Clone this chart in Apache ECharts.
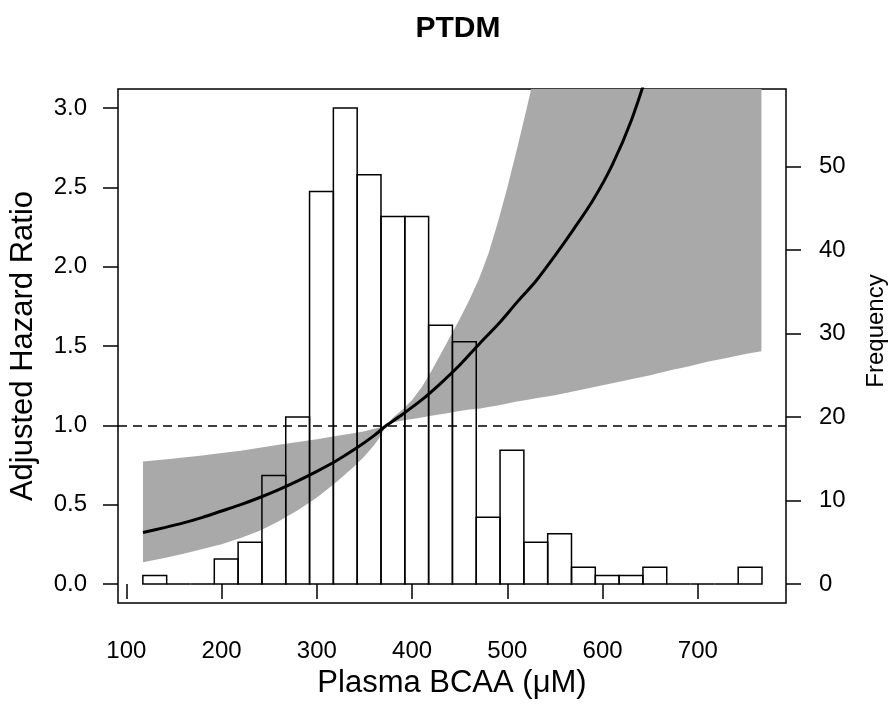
<!DOCTYPE html>
<html><head><meta charset="utf-8">
<script src="https://cdn.jsdelivr.net/npm/echarts@6/dist/echarts.min.js"></script>
<style>html,body{margin:0;padding:0;background:#fff}#c{width:896px;height:711px}</style>
</head><body><div id="c"></div>
<script>
// ---- data ----
const chartTitle = 'PTDM';
const xTitle = 'Plasma BCAA (μM)';
const yTitle = 'Adjusted Hazard Ratio';
const y2Title = 'Frequency';
const xTicks = [100, 200, 300, 400, 500, 600, 700];
const hrTicks = [0, 0.5, 1.0, 1.5, 2.0, 2.5, 3.0];
const freqTicks = [0, 10, 20, 30, 40, 50];
// histogram bin edges and counts
const histBreaks = [117.3,142.3,167.3,192.3,217.3,242.3,267.3,292.3,317.3,342.3,367.3,392.3,417.3,442.3,467.3,492.3,517.3,542.3,567.3,592.3,617.3,642.3,667.3,692.3,717.3,742.3,767.3];
const histCounts = [1,0,0,3,5,13,20,47,57,49,44,44,31,29,8,16,5,6,2,1,1,2,0,0,0,2];
// confidence band
const bandX = [117.4,140,160,180,200,220,240,260,280,300,320,340,350,360,365,373.2,380,390,400,410,420,430,440,450,460,470,480,490,500,510,520,530,550,570,590,610,630,650,670,690,710,730,750,766.7];
const ciLower = [0.137,0.163,0.19,0.22,0.25,0.29,0.335,0.395,0.465,0.545,0.64,0.745,0.805,0.875,0.915,1.0,1.018,1.03,1.04,1.05,1.06,1.07,1.08,1.09,1.10,1.105,1.115,1.125,1.138,1.15,1.16,1.17,1.19,1.215,1.24,1.265,1.29,1.315,1.345,1.37,1.40,1.425,1.45,1.467];
// values above the plot top (3.12) are cut off in the reference; 3.3 stands for "off the chart"
const ciUpper = [0.772,0.785,0.797,0.81,0.825,0.84,0.858,0.877,0.895,0.912,0.932,0.952,0.963,0.978,0.985,1.0,1.05,1.10,1.16,1.24,1.34,1.45,1.56,1.67,1.79,1.92,2.08,2.28,2.50,2.74,2.99,3.25,3.3,3.3,3.3,3.3,3.3,3.3,3.3,3.3,3.3,3.3,3.3,3.3];
// hazard ratio curve
const curveX = [117.4,140,160,180,200,220,240,260,280,300,320,340,360,373.2,390,410,430,450,470,490,510,530,550,570,590,610,630,650];
const curveHR = [0.324,0.355,0.385,0.42,0.46,0.50,0.545,0.595,0.65,0.71,0.775,0.85,0.935,1.0,1.07,1.16,1.265,1.38,1.51,1.635,1.775,1.91,2.07,2.24,2.42,2.64,2.92,3.28];
const refHR = 1;

// ---- chart ----
const F = 'Liberation Sans, Arial, Helvetica, sans-serif';
const chart = echarts.init(document.getElementById('c'), null, {renderer: 'canvas'});
const bins = histCounts.map((c, i) => [histBreaks[i], histBreaks[i + 1], c]);
const curveData = curveX.map((x, i) => [x, curveHR[i]]);

const tickStyle = {color: '#000', width: 1.5};
const labelStyle = {fontSize: 24, color: '#000', fontFamily: F};

chart.setOption({
  animation: false,
  backgroundColor: '#fff',
  title: {
    text: chartTitle, left: 453, top: 9, textAlign: 'center',
    textStyle: {fontFamily: F, fontSize: 30, fontWeight: 'bold', color: '#000'}
  },
  grid: {left: 118, right: 109, top: 89, bottom: 108, show: true, borderColor: '#000', borderWidth: 1.5, backgroundColor: 'transparent'},
  xAxis: {
    type: 'value', min: 91.2, max: 792.5,
    splitLine: {show: false}, axisLine: {show: false},
    axisTick: {show: true, length: 15, lineStyle: tickStyle, customValues: xTicks},
    axisLabel: Object.assign({customValues: xTicks, margin: 36}, labelStyle),
    name: xTitle, nameLocation: 'middle', nameGap: 62,
    nameTextStyle: {fontSize: 31, fontFamily: F, color: '#000'}
  },
  yAxis: [{
    type: 'value', min: -0.12, max: 3.12, position: 'left',
    splitLine: {show: false}, axisLine: {show: false},
    axisTick: {show: true, length: 15, lineStyle: tickStyle, customValues: hrTicks},
    axisLabel: Object.assign({customValues: hrTicks, margin: 31, formatter: v => v.toFixed(1)}, labelStyle),
    name: yTitle, nameLocation: 'middle', nameGap: 79, nameRotate: 90,
    nameTextStyle: {fontSize: 31, fontFamily: F, color: '#000'}
  }, {
    type: 'value', min: -2.28, max: 59.28, position: 'right',
    splitLine: {show: false}, axisLine: {show: false},
    axisTick: {show: true, length: 15, lineStyle: tickStyle, customValues: freqTicks},
    axisLabel: Object.assign({customValues: freqTicks, margin: 33}, labelStyle),
    name: y2Title, nameLocation: 'middle', nameGap: 78, nameRotate: 90,
    nameTextStyle: {fontSize: 24, fontFamily: F, color: '#000', padding: [0, 0, 0, 30]}
  }],
  series: [{
    type: 'custom', data: [[bandX[0], ciLower[0]]], z: 1, silent: true, clip: true,
    renderItem: function (params, api) {
      const pts = [];
      for (let i = 0; i < bandX.length; i++) pts.push(api.coord([bandX[i], ciUpper[i]]));
      for (let i = bandX.length - 1; i >= 0; i--) pts.push(api.coord([bandX[i], ciLower[i]]));
      const cs = params.coordSys;
      return {
        type: 'polygon', shape: {points: pts},
        style: {fill: '#a9a9a9', stroke: 'none'},
        clipPath: {type: 'rect', shape: {x: cs.x, y: cs.y, width: cs.width, height: cs.height}}
      };
    }
  }, {
    type: 'custom', yAxisIndex: 1, data: bins, z: 2, silent: true,
    encode: {x: [0, 1], y: 2},
    renderItem: function (params, api) {
      const p0 = api.coord([api.value(0), 0]);
      const p1 = api.coord([api.value(1), api.value(2)]);
      return {
        type: 'rect',
        shape: {x: p0[0], y: p1[1], width: p1[0] - p0[0], height: p0[1] - p1[1]},
        style: {fill: 'none', stroke: '#000', lineWidth: 1.5}
      };
    }
  }, {
    type: 'line', data: curveData, symbol: 'none', smooth: 0.3, z: 4,
    lineStyle: {color: '#000', width: 3}, silent: true,
    markLine: {
      silent: true, symbol: 'none', label: {show: false},
      lineStyle: {color: '#000', width: 1.5, type: [9, 6]},
      data: [{yAxis: refHR}]
    }
  }]
});
</script></body></html>
